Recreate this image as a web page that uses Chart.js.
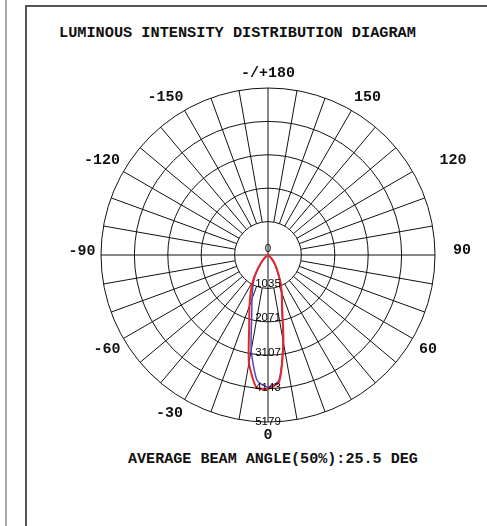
<!DOCTYPE html>
<html>
<head>
<meta charset="utf-8">
<script src="https://cdn.jsdelivr.net/npm/chart.js@4.4.0/dist/chart.umd.min.js"></script>
<style>
    body { margin: 0; background: #fff; width: 487px; height: 526px; overflow: hidden; position: relative; }
    #sideLine { position: absolute; left: 5px; top: 0; width: 2px; height: 526px; background: #aaa; }
    #frame { position: absolute; left: 25px; top: 5px; width: 470px; height: 530px; border-left: 2px solid #555; border-top: 2px solid #555; }
    .mono { position: absolute; font-family: "Liberation Mono", "DejaVu Sans Mono", monospace; font-weight: bold; color: #111; white-space: nowrap; line-height: 1; }
    #title { left: 59px; top: 26px; font-size: 15.25px; }
    #footer { left: 128px; top: 452px; font-size: 15.1px; }
    canvas { position: absolute; left: 0; top: 0; }
</style>
</head>
<body>
<div id="sideLine"></div>
<div id="frame"></div>
<div id="title" class="mono">LUMINOUS INTENSITY DISTRIBUTION DIAGRAM</div>
<div id="footer" class="mono">AVERAGE BEAM ANGLE(50%):25.5 DEG</div>
<canvas id="polarChart" width="487" height="526"></canvas>
<script>
// angle of each data point (deg), going clockwise from the bottom (0)
var angles = [
    0, -5, -10, -15, -20, -25, -30, -35, -40, -45, -50, -55,
    -60, -65, -70, -75, -80, -85, -90, -95, -100, -105, -110, -115,
    -120, -125, -130, -135, -140, -145, -150, -155, -160, -165, -170, -175,
    180, 175, 170, 165, 160, 155, 150, 145, 140, 135, 130, 125,
    120, 115, 110, 105, 100, 95, 90, 85, 80, 75, 70, 65,
    60, 55, 50, 45, 40, 35, 30, 25, 20, 15, 10, 5
];

// intensity, C0-C180 plane (red)
var redValues = [
    4150, 4120, 3400, 2250, 1680, 1270, 940, 620, 380, 220, 110, 50,
    15, 0, 0, 0, 0, 0, 0, 0, 0, 0, 0, 0,
    0, 0, 0, 0, 0, 0, 0, 0, 0, 0, 0, 0,
    0, 0, 0, 0, 0, 0, 0, 0, 0, 0, 0, 0,
    0, 0, 0, 0, 0, 0, 0, 0, 0, 0, 0, 0,
    0, 25, 70, 150, 270, 420, 600, 900, 1250, 1700, 2750, 3950
];

// intensity, C90-C270 plane (blue)
var blueValues = [
    4100, 3900, 3000, 1950, 1450, 1120, 860, 570, 350, 200, 100, 40,
    10, 0, 0, 0, 0, 0, 0, 0, 0, 0, 0, 0,
    0, 0, 0, 0, 0, 0, 0, 0, 0, 0, 0, 0,
    0, 0, 0, 0, 0, 0, 0, 0, 0, 0, 0, 0,
    0, 0, 0, 0, 0, 0, 0, 0, 0, 0, 0, 0,
    0, 20, 60, 130, 250, 400, 590, 870, 1220, 1650, 2700, 3900
];

var ringMax = 5179;
var ringLabels = ['0', '1035', '2071', '3107', '4143', '5179'];

var axisAngles = [180, 150, 120, 90, 60, 0, -30, -60, -90, -120, -150];
var axisTexts = ['-/+180', '150', '120', '90', '60', '0', '-30', '-60', '-90', '-120', '-150'];

// distance of the angle labels past the outer ring, and small shifts (px)
var labelPad = {'180': 15, '0': 13};
var labelNudge = {
    '150': [6, 4], '-150': [-9, 4], '120': [23, -1], '-120': [-4, -1],
    '90': [7, -5], '-90': [1, -4], '60': [-2, 1], '-60': [1, 1], '-30': [-5, -4]
};

/**
 * Draws the spokes (every 10 deg, from first ring out; main axes through centre)
 * and the labels that the radial scale would draw upside down.
 */
var polarDecor = {
    id: 'polarDecor',
    beforeDatasetsDraw: function (chart) {
        var r = chart.scales.r;
        var ctx = chart.ctx;
        var inner = r.getDistanceFromCenterForValue(r.ticks[1].value);
        var outer = r.getDistanceFromCenterForValue(ringMax);
        ctx.save();
        ctx.strokeStyle = '#111';
        ctx.lineWidth = 1;
        for (var i = 0; i < angles.length; i += 2) {
            var through = angles[i] % 90 === 0;
            var a = r.getPointPosition(i, through ? 0 : inner);
            var b = r.getPointPosition(i, outer);
            ctx.beginPath();
            ctx.moveTo(a.x, a.y);
            ctx.lineTo(b.x, b.y);
            ctx.stroke();
        }
        ctx.restore();
    },
    afterDraw: function (chart) {
        var r = chart.scales.r;
        var ctx = chart.ctx;
        var outer = r.getDistanceFromCenterForValue(ringMax);
        ctx.save();
        ctx.textAlign = 'center';
        ctx.textBaseline = 'middle';

        // ring values along the 0 deg direction
        ctx.font = '11.5px "Liberation Sans", Arial, sans-serif';
        ctx.fillStyle = '#000';
        r.ticks.forEach(function (tick, k) {
            var d = r.getDistanceFromCenterForValue(tick.value) * 1.036 - 6;
            var p = r.getPointPosition(0, d);
            ctx.fillText(ringLabels[k], p.x, p.y);
        });

        // angle labels
        ctx.font = 'bold 15px "Liberation Mono", "DejaVu Sans Mono", monospace';
        ctx.fillStyle = '#111';
        axisAngles.forEach(function (ang, k) {
            var key = String(ang);
            var idx = angles.indexOf(ang);
            var pad = labelPad[key] !== undefined ? labelPad[key] : 20;
            var nudge = labelNudge[key] || [0, 0];
            var p = r.getPointPosition(idx, outer + pad);
            ctx.fillText(axisTexts[k], p.x + nudge[0], p.y + nudge[1]);
        });
        ctx.restore();
    }
};

var ctx = document.getElementById('polarChart').getContext('2d');
var polarChart = new Chart(ctx, {
    type: 'radar',
    data: {
        labels: angles,
        datasets: [
            {data: redValues, label: 'C0-C180', borderColor: '#e8262a', borderWidth: 2, fill: false, pointRadius: 0, tension: 0.2},
            {data: blueValues, label: 'C90-C270', borderColor: '#4a4ac8', borderWidth: 1.5, fill: false, pointRadius: 0, tension: 0.2}
        ]
    },
    options: {
        responsive: false,
        animation: false,
        devicePixelRatio: 1,
        layout: {padding: {left: 101, right: 52, top: 88, bottom: 104}},
        plugins: {legend: {display: false}, tooltip: {enabled: false}},
        scales: {
            r: {
                min: 0,
                max: ringMax,
                startAngle: 180,
                ticks: {count: 6, display: false},
                grid: {circular: true, color: '#111', lineWidth: 1},
                angleLines: {display: false},
                pointLabels: {display: false}
            }
        }
    },
    plugins: [polarDecor]
});
</script>
</body>
</html>
